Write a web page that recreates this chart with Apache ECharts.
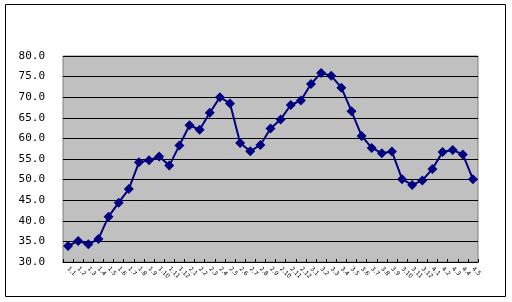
<!DOCTYPE html>
<html><head><meta charset="utf-8">
<script src="https://cdn.jsdelivr.net/npm/echarts@6/dist/echarts.min.js"></script>
<style>html,body{margin:0;padding:0;background:#fff}#c{width:512px;height:302px}</style>
</head><body><div id="c"></div>
<script>
const categories = [
 '1.1','1.2','1.3','1.4','1.5','1.6','1.7','1.8','1.9','1.10','1.11','1.12',
 '2.1','2.2','2.3','2.4','2.5','2.6','2.7','2.8','2.9','2.10','2.11','2.12',
 '3.1','3.2','3.3','3.4','3.5','3.6','3.7','3.8','3.9','3.10','3.11','3.12',
 '4.1','4.2','4.3','4.4','4.5'];
const values = [33.9,35.1,34.3,35.6,41.0,44.4,47.7,54.2,54.7,55.6,53.4,58.3,63.2,62.1,66.2,70.0,68.5,58.9,56.9,58.4,62.4,64.6,68.1,69.2,73.2,75.9,75.2,72.3,66.6,60.6,57.7,56.4,56.8,50.1,48.7,49.8,52.6,56.7,57.2,56.1,50.1];
const yMin = 30, yMax = 80, yStep = 5;

const chart = echarts.init(document.getElementById('c'));
chart.setOption({
  animation: false,
  graphic: [{type:'rect', shape:{x:5.5,y:4.5,width:500,height:292}, style:{fill:'none', stroke:'#000', lineWidth:1}, z:-10}],
  grid: {left:63, top:56, width:415, height:206, show:true, backgroundColor:'#C0C0C0', borderColor:'#808080', borderWidth:1},
  xAxis: {type:'category', data:categories, boundaryGap:true,
    axisLine:{show:true, lineStyle:{color:'#000', width:1}},
    axisTick:{show:true, inside:true, length:3, lineStyle:{color:'#000'}},
    axisLabel:{rotate:-45, fontSize:6, color:'#000', margin:6, interval:0, fontFamily:'DejaVu Sans'}},
  yAxis: {type:'value', min:yMin, max:yMax, interval:yStep,
    axisLine:{show:false}, axisTick:{show:false},
    splitLine:{show:true, lineStyle:{color:'#000', width:1}},
    axisLabel:{formatter:v=>v.toFixed(1), fontSize:11, color:'#000', margin:18, fontFamily:'DejaVu Sans Mono'}},
  series: [{type:'line', data:values, symbol:'diamond', symbolSize:10,
    lineStyle:{color:'#000080', width:2}, itemStyle:{color:'#000080'}}]
});
</script></body></html>
